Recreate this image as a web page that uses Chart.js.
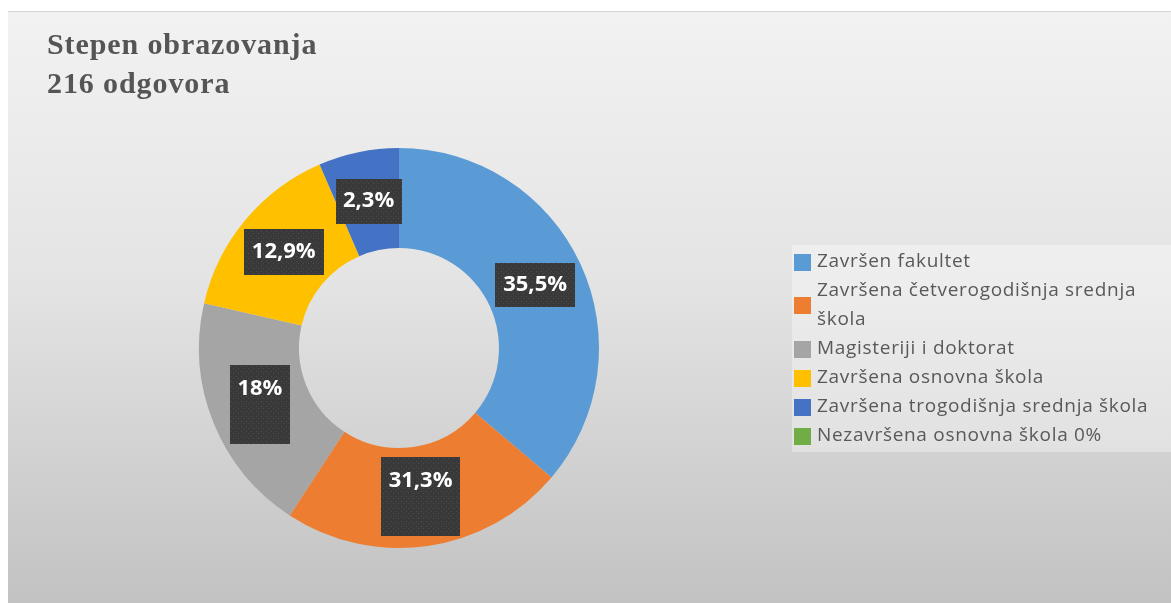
<!DOCTYPE html>
<html>
<head>
<meta charset="utf-8">
<script src="https://cdn.jsdelivr.net/npm/chart.js@4.4.0/dist/chart.umd.min.js"></script>
<style>
    html, body { margin: 0; padding: 0; background: #ffffff; }
    .panel {
        position: absolute; left: 8px; top: 11px; width: 1163px; height: 592px;
        background: linear-gradient(to bottom, #f2f2f2 0%, #e4e4e4 45%, #c2c2c2 100%);
        border-top: 1px solid #d6d6d6;
    }
    .wrap { position: absolute; left: 0; top: 0; width: 1171px; height: 603px; }
</style>
</head>
<body>
<div class="panel"></div>
<div class="wrap"><canvas id="edu-chart"></canvas></div>
<script>
// podaci (uglovi procijenjeni sa slike, natpisi kako su ispisani)
const categories = [
    'Završen fakultet',
    'Završena četverogodišnja srednja škola',
    'Magisteriji i doktorat',
    'Završena osnovna škola',
    'Završena trogodišnja srednja škola',
    'Nezavršena osnovna škola 0%'
];
const sliceValues = [36.2, 23.0, 19.4, 14.9, 6.5, 0];
const percentLabels = ['35,5%', '31,3%', '18%', '12,9%', '2,3%', ''];
const titleLines = ['Stepen obrazovanja', '216 odgovora'];

const colors = ['#5b9bd5', '#ed7d31', '#a5a5a5', '#ffc000', '#4472c4', '#70ad47'];
// velicine tamnih kutija oko natpisa (w, h)
const boxSizes = [[80, 44], [79, 79], [60, 79], [80, 46], [66, 45], [0, 0]];

// tackasti uzorak za kutije
function makePattern(ctx) {
    const c = document.createElement('canvas');
    c.width = 5; c.height = 5;
    const p = c.getContext('2d');
    p.fillStyle = '#393939';
    p.fillRect(0, 0, 5, 5);
    p.fillStyle = '#4c4c4c';
    p.fillRect(1, 1, 1, 1);
    p.fillRect(3, 3, 1, 1);
    return ctx.createPattern(c, 'repeat');
}

const decorPlugin = {
    id: 'decor',
    afterDatasetsDraw(chart) {
        const ctx = chart.ctx;
        const meta = chart.getDatasetMeta(0);
        const pattern = makePattern(ctx);
        ctx.save();

        // natpisi na isjeccima
        meta.data.forEach((arc, i) => {
            if (!percentLabels[i]) return;
            const pt = arc.getCenterPoint();
            const [w, h] = boxSizes[i];
            const x0 = Math.round(pt.x - w / 2);
            const y0 = Math.round(pt.y - h / 2);
            ctx.fillStyle = pattern;
            ctx.fillRect(x0, y0, w, h);
            ctx.fillStyle = '#ffffff';
            ctx.font = 'bold 22px "Open Sans"';
            ctx.letterSpacing = '0px';
            ctx.textAlign = 'center';
            ctx.textBaseline = 'middle';
            const ty = Math.min(pt.y, y0 + 24);
            ctx.fillText(percentLabels[i], pt.x, ty);
        });

        // naslov
        ctx.fillStyle = '#555555';
        ctx.font = 'bold 30px "Liberation Serif"';
        ctx.letterSpacing = '0.9px';
        ctx.textAlign = 'left';
        ctx.textBaseline = 'alphabetic';
        titleLines.forEach((t, i) => ctx.fillText(t, 47, 54 + i * 39));

        // legenda
        ctx.fillStyle = 'rgba(255,255,255,0.35)';
        ctx.fillRect(792, 245, 379, 207);
        ctx.font = '19px "Open Sans"';
        ctx.letterSpacing = '0.7px';
        ctx.textBaseline = 'middle';
        const textX = 817, maxW = 345, lineH = 29;
        let y = 262;
        categories.forEach((name, i) => {
            const words = name.split(' ');
            const lines = [];
            let cur = '';
            words.forEach(wd => {
                const test = cur ? cur + ' ' + wd : wd;
                if (ctx.measureText(test).width > maxW && cur) {
                    lines.push(cur);
                    cur = wd;
                } else {
                    cur = test;
                }
            });
            lines.push(cur);
            const midY = y + (lines.length - 1) * lineH / 2;
            ctx.fillStyle = colors[i];
            ctx.fillRect(794, Math.round(midY - 8.5), 17, 17);
            ctx.fillStyle = '#595959';
            lines.forEach((ln, k) => ctx.fillText(ln, textX, y + k * lineH));
            y += lines.length * lineH;
        });
        ctx.restore();
    }
};

new Chart(document.getElementById('edu-chart'), {
    type: 'doughnut',
    data: {
        labels: categories,
        datasets: [{
            data: sliceValues,
            backgroundColor: colors,
            borderWidth: 0
        }]
    },
    options: {
        responsive: true,
        maintainAspectRatio: false,
        cutout: '50%',
        animation: false,
        layout: {
            padding: { left: 199, top: 148, right: 572, bottom: 55 }
        },
        plugins: {
            legend: { display: false },
            tooltip: { enabled: false }
        }
    },
    plugins: [decorPlugin]
});
</script>
</body>
</html>
